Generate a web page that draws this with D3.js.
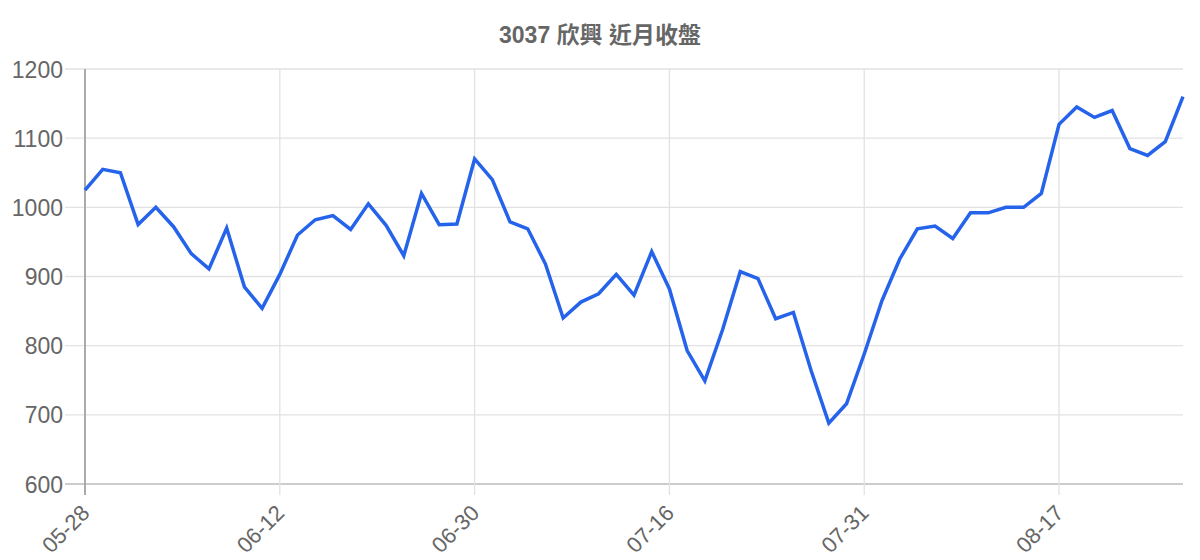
<!DOCTYPE html>
<html><head><meta charset="utf-8">
<script src="https://cdn.jsdelivr.net/npm/d3@7/dist/d3.min.js"></script>
<style>body{margin:0;background:#fff}svg{display:block}</style>
</head><body>
<svg id="c" width="1200" height="560"></svg>
<script>
const title = "3037 欣興 近月收盤";
const dates = ["05-28","05-29","05-30","05-31","06-02","06-03","06-04","06-05","06-06","06-09","06-10","06-12",
"06-13","06-16","06-17","06-18","06-19","06-20","06-23","06-24","06-25","06-26","06-30",
"07-01","07-02","07-03","07-04","07-07","07-08","07-09","07-10","07-11","07-14","07-16",
"07-17","07-18","07-21","07-22","07-23","07-24","07-25","07-28","07-29","07-30","07-31",
"08-01","08-04","08-05","08-06","08-07","08-08","08-11","08-12","08-13","08-14","08-17",
"08-18","08-19","08-20","08-21","08-22","08-25","08-26"];
const closes = [1025,1055,1050,975,1000,972,933,911,970,885,854,903,960,982,988,968,1005,974,930,1020,975,976,1070,1040,979,969,918,840,863,875,903,873,936,882,793,749,823,907,897,839,848,764,688,716,788,865,925,969,973,955,992,992,1000,1000,1020,1120,1145,1130,1140,1085,1075,1095,1160];
const xTickLabels = ["05-28","06-12","06-30","07-16","07-31","08-17"];
const yTicks = [600,700,800,900,1000,1100,1200];

const svg = d3.select("#c");
const L = 85, R = 1183, T = 69, B = 484;
const x = d3.scalePoint().domain(dates).range([L, R]);
const y = d3.scaleLinear().domain([600, 1200]).range([B, T]);
const font = "'Liberation Sans', Arial, Helvetica, sans-serif";

// horizontal grid
const yg = svg.append("g");
yTicks.forEach(v => {
  yg.append("line").attr("x1", L - 20).attr("x2", R).attr("y1", y(v)).attr("y2", y(v))
    .attr("stroke", v === 600 ? "#cccccc" : "#e2e2e2").attr("stroke-width", v === 600 ? 2 : 1.3);
});
// vertical grid
xTickLabels.forEach(d => {
  svg.append("line").attr("x1", x(d)).attr("x2", x(d)).attr("y1", T).attr("y2", B + 11)
    .attr("stroke", d === dates[0] ? "#aaaaaa" : "#e2e2e2").attr("stroke-width", d === dates[0] ? 2 : 1.3);
});

// y axis labels
const yAxis = d3.axisLeft(y).tickValues(yTicks).tickFormat(d3.format("d")).tickSize(0).tickPadding(0);
const ga = svg.append("g").attr("transform", `translate(${L - 22},0)`).call(yAxis);
ga.select(".domain").remove();
ga.selectAll("text").attr("font-family", font).attr("font-size", 23).attr("fill", "#666").attr("dy", "0.35em");

// x axis labels
const xAxis = d3.axisBottom(x).tickValues(xTickLabels).tickSize(0).tickPadding(0);
const gx = svg.append("g").attr("transform", `translate(0,${B + 25})`).call(xAxis);
gx.select(".domain").remove();
gx.selectAll(".tick text").attr("font-family", font).attr("font-size", 22).attr("fill", "#666")
  .attr("text-anchor", "end").attr("dy", "0.35em").attr("y", 0).attr("x", 0)
  .attr("transform", "rotate(-45)");

// line
svg.append("path").datum(closes)
  .attr("fill", "none").attr("stroke", "#2563eb").attr("stroke-width", 3.5)
  .attr("stroke-linejoin", "miter")
  .attr("d", d3.line().x((d, i) => x(dates[i])).y(d => y(d)));

// title
svg.append("text").attr("x", 600).attr("y", 43).attr("text-anchor", "middle")
  .attr("font-family", "'Liberation Sans', 'Noto Sans CJK TC', sans-serif").attr("font-weight", "bold")
  .attr("font-size", 23).attr("fill", "#666").text(title);
</script>
</body></html>
